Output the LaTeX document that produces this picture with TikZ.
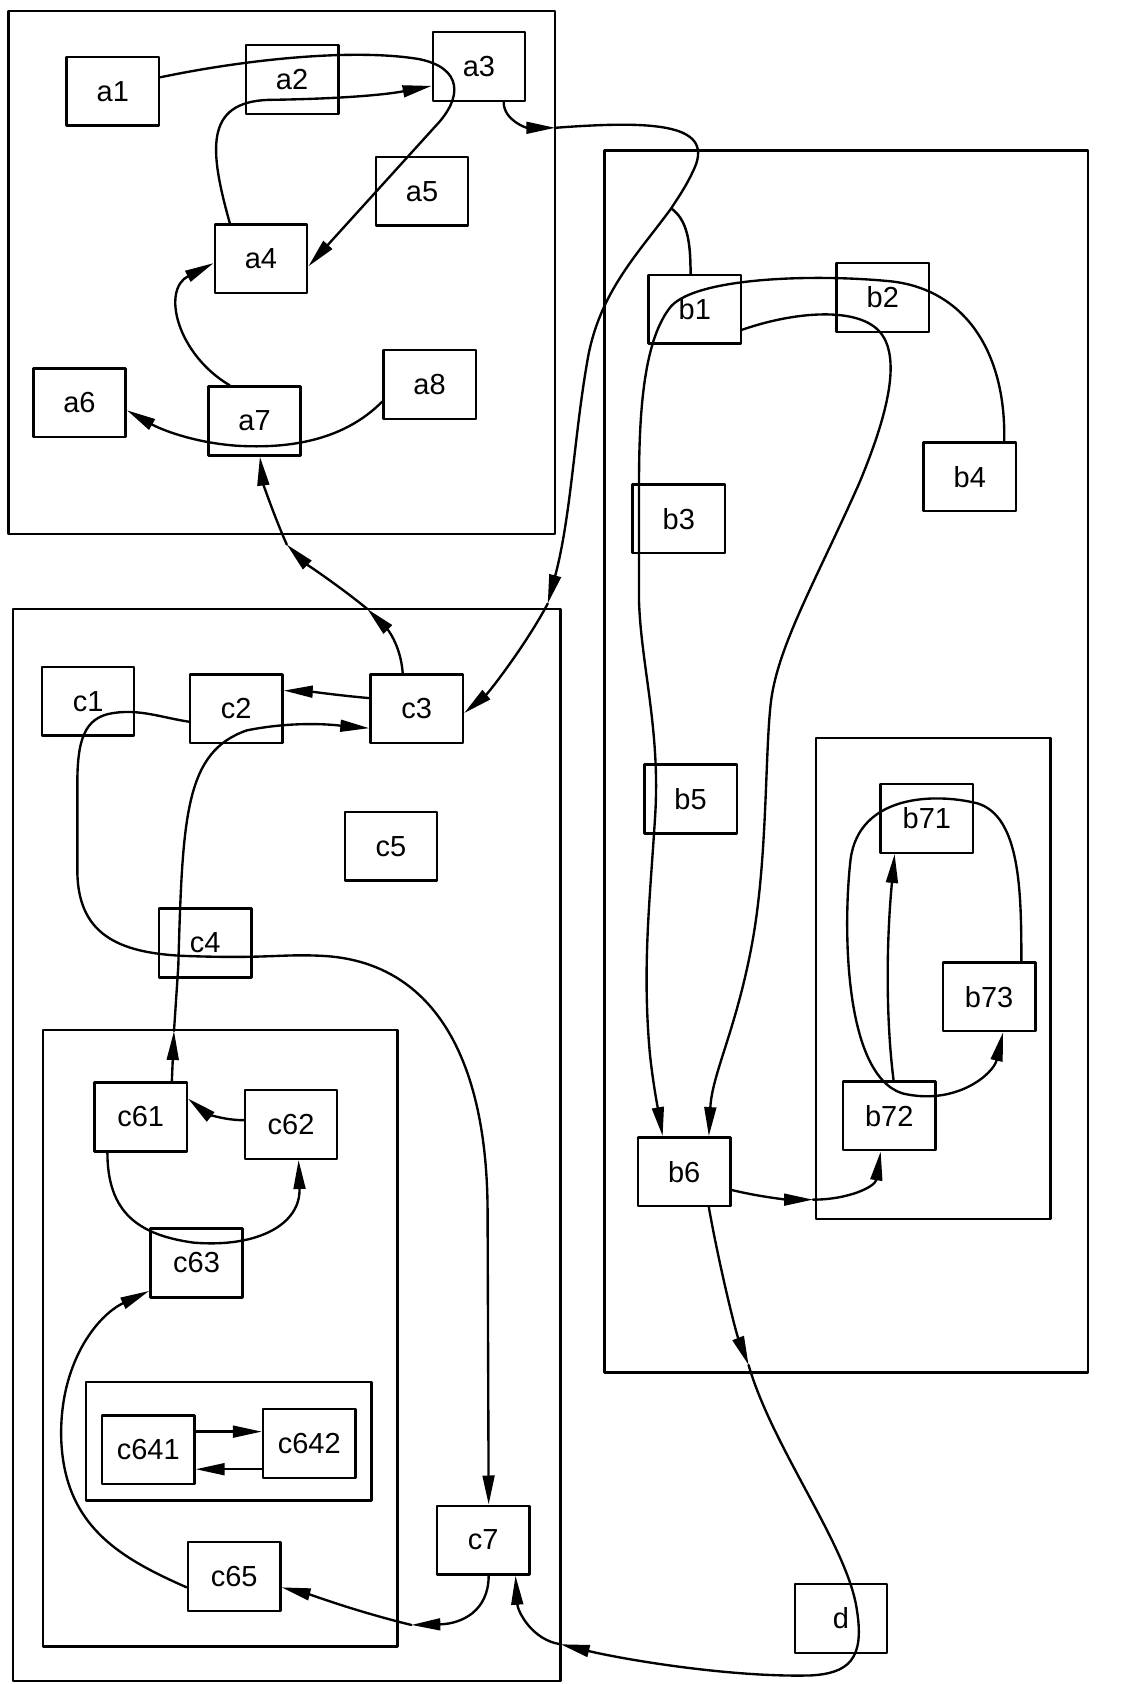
\documentclass[tikz,border=0pt]{standalone}
\usepackage{fontspec}
\setmainfont{Liberation Sans}
\usetikzlibrary{arrows.meta}

\begin{document}
\begin{tikzpicture}[x=1pt, y=-1pt, line width=2.3pt, line cap=round, line join=round,
  box/.style={draw, line width=2.3pt, minimum width=86pt, minimum height=64pt, inner sep=0pt,
              font=\fontsize{27}{32}\selectfont},
  edge/.style={line width=2.2pt, -{Triangle[length=27pt, width=11pt]}}]

  %% ════ 簇框（clusters）════
  \draw (8,10) rectangle (517,497);        % A
  \draw (563,140) rectangle (1013,1278);   % B
  \draw (760,687) rectangle (978,1135);    % B7
  \draw (12,567) rectangle (522,1565);     % C
  \draw (40,959) rectangle (370,1533);     % C6
  \draw (80,1287) rectangle (346,1397);    % C64

  %% ════ 结点 ════
  \node[box] (a1) at (105,85) {a1};
  \node[box] (a2) at (272,74) {a2};
  \node[box] (a3) at (446,62) {a3};
  \node[box] (a5) at (393,178) {a5};
  \node[box] (a4) at (243,241) {a4};
  \node[box] (a8) at (400,358) {a8};
  \node[box] (a6) at (74,375) {a6};
  \node[box] (a7) at (237,392) {a7};

  \node[box] (b1) at (647,288) {b1};
  \node[box] (b2) at (822,277) {b2};
  \node[box] (b3) at (632,483) {b3};
  \node[box] (b4) at (903,444) {b4};
  \node[box] (b5) at (643,744) {b5};
  \node[box] (b6) at (637,1091) {b6};
  \node[box] (b71) at (863,762) {b71};
  \node[box] (b73) at (921,928) {b73};
  \node[box] (b72) at (828,1039) {b72};

  \node[box] (c1) at (82,653) {c1};
  \node[box] (c2) at (220,660) {c2};
  \node[box] (c3) at (388,660) {c3};
  \node[box] (c5) at (364,788) {c5};
  \node[box] (c4) at (191,878) {c4};
  \node[box] (c61) at (131,1040) {c61};
  \node[box] (c62) at (271,1047) {c62};
  \node[box] (c63) at (183,1176) {c63};
  \node[box] (c641) at (138,1350) {c641};
  \node[box] (c642) at (288,1344) {c642};
  \node[box] (c65) at (218,1468) {c65};
  \node[box] (c7) at (450,1434) {c7};
  \node[box] (d) at (783,1507) {d};

  %% ════ 穿越簇边界处的箭头点 ════
  \coordinate (ax1) at (517,119);   % a3->c3 出 A
  \coordinate (cx1) at (510,562);   % a3->c3 入 C
  \coordinate (bm)  at (625,194);   % b1 汇入点
  \coordinate (cx2) at (342,567);   % c3->a7 出 C
  \coordinate (ax2) at (267,507);   % c3->a7 入 A
  \coordinate (cx3) at (162,960);   % c61->c3 出 C6
  \coordinate (cx4) at (383,1513);  % c7->c65 入 C6
  \coordinate (bx1) at (697,1271);  % b6->c7 出 B
  \coordinate (cx5) at (522,1531);  % b6->c7 入 C
  \coordinate (bx2) at (757,1117);  % b6->b72 入 B7

  %% ════ 簇 A 内的边 ════
  \draw[edge] ([yshift=13pt]a1.east) .. controls (230,55) and (330,45) .. (390,55)
              .. controls (430,63) and (432,90) .. (405,118) -- ([yshift=-7pt]a4.east);
  \draw[edge] ([xshift=-29pt]a4.north) .. controls (195,140) and (190,95) .. (250,93)
              .. controls (320,92) and (360,88) .. ([yshift=-18pt]a3.west);
  \draw[edge] ([xshift=-23pt]a7.north) .. controls (165,330) and (150,270) .. ([yshift=-4pt]a4.west);
  \draw[edge] ([yshift=-16pt]a8.west) .. controls (320,410) and (270,418) .. (220,415)
              .. controls (180,412) and (150,400) .. ([yshift=-7pt]a6.east);

  %% ════ a3 -> c3（跨簇，三段）════
  \draw[edge] ([xshift=23pt]a3.south) .. controls (469,112) and (490,119) .. (ax1);
  \draw[edge] (ax1) .. controls (610,112) and (668,115) .. (645,160)
              .. controls (638,175) and (630,186) .. (bm)
              .. controls (595,235) and (560,270) .. (548,330)
              .. controls (535,400) and (532,480) .. (cx1);
  \draw[edge] (cx1) .. controls (490,600) and (455,645) .. ([yshift=-4pt]c3.east);
  \draw ([xshift=-4pt]b1.north) .. controls (643,225) and (640,205) .. (bm);

  %% ════ c3 -> a7 ════
  \draw[edge] ([xshift=-13pt]c3.north) .. controls (373,600) and (360,585) .. (cx2);
  \draw[edge] (cx2) .. controls (315,545) and (285,525) .. (ax2);
  \draw[edge] (ax2) .. controls (255,480) and (245,450) .. ([xshift=5pt]a7.south);

  %% ════ 簇 C 内的边 ════
  \draw[edge] ([yshift=10pt]c3.west) .. controls (320,648) and (290,644) .. ([yshift=17pt]c2.east);
  \draw[edge] ([yshift=-12pt]c2.west) .. controls (150,668) and (130,660) .. (105,664)
              .. controls (78,668) and (72,690) .. (72,730) -- (72,810)
              .. controls (72,870) and (110,887) .. (170,890)
              .. controls (250,893) and (260,888) .. (300,890)
              .. controls (400,895) and (454,980) .. (454,1130) -- ([xshift=5pt]c7.north);
  \draw[edge] ([xshift=29pt]c61.north) -- (cx3);
  \draw[edge] (cx3) -- (166,900) .. controls (170,760) and (172,700) .. (230,680)
              .. controls (280,670) and (320,676) .. ([yshift=-18pt]c3.west);
  \draw[edge] ([yshift=4pt]c62.west) .. controls (205,1043) and (190,1035) .. ([yshift=17pt]c61.east);
  \draw[edge] ([xshift=-31pt]c61.south) .. controls (100,1130) and (130,1150) .. (180,1157)
              .. controls (240,1162) and (280,1140) .. ([xshift=7pt]c62.south);
  \draw[edge] ([yshift=-10pt]c65.west) .. controls (110,1450) and (60,1420) .. (57,1340)
              .. controls (55,1270) and (90,1225) .. ([yshift=-26pt]c63.west);
  \draw[edge] ([yshift=17pt]c641.east) -- ([yshift=11pt]c642.west);
  \draw[edge] ([yshift=-24pt]c642.west) -- ([yshift=-18pt]c641.east);
  \draw[edge] ([xshift=5pt]c7.south) .. controls (455,1500) and (430,1512) .. (cx4);
  \draw[edge] (cx4) .. controls (330,1500) and (290,1485) .. ([yshift=-10pt]c65.east);

  %% ════ 簇 B 内的边 ════
  \draw[edge] ([xshift=32pt]b4.north) .. controls (937,330) and (900,270) .. (830,262)
              .. controls (760,255) and (650,258) .. (625,285)
              .. controls (600,315) and (595,380) .. (595,450) -- (595,560)
              .. controls (597,620) and (615,680) .. (610,760)
              .. controls (605,840) and (598,900) .. (605,980)
              .. controls (608,1010) and (614,1040) .. ([xshift=-20pt]b6.north);
  \draw[edge] ([yshift=-19pt]b1.east) .. controls (740,290) and (800,285) .. (820,310)
              .. controls (840,335) and (825,390) .. (800,450)
              .. controls (760,540) and (725,600) .. (718,652)
              .. controls (712,700) and (715,800) .. (700,880)
              .. controls (685,960) and (663,1000) .. ([xshift=23pt]b6.north);
  \draw[edge] ([yshift=-17pt]b6.east) .. controls (710,1115) and (735,1117) .. (bx2);
  \draw[edge] (bx2) .. controls (790,1117) and (815,1105) .. ([xshift=-8pt]b72.south);
  \draw[edge] ([xshift=4pt]b72.north) .. controls (825,950) and (825,880) .. ([xshift=-30pt]b71.south);
  \draw[edge] ([xshift=30pt]b73.north) .. controls (951,830) and (950,760) .. (910,748)
              .. controls (870,738) and (800,740) .. (792,800)
              .. controls (785,860) and (785,1000) .. (840,1018)
              .. controls (890,1030) and (925,1000) .. ([xshift=13pt]b73.south);

  %% ════ b6 -> c7（经 d，三段）════
  \draw[edge] ([xshift=23pt]b6.south) .. controls (670,1180) and (685,1240) .. (bx1);
  \draw[edge] (bx1) .. controls (720,1350) and (790,1440) .. (798,1500)
              .. controls (805,1545) and (790,1558) .. (755,1560)
              .. controls (680,1562) and (580,1545) .. (cx5);
  \draw[edge] (cx5) .. controls (495,1527) and (482,1500) .. ([xshift=30pt]c7.south);

  % 钉死画布
  \pgfresetboundingbox
  \path[use as bounding box] (0,0) rectangle (1045,1568);
\end{tikzpicture}
\end{document}
